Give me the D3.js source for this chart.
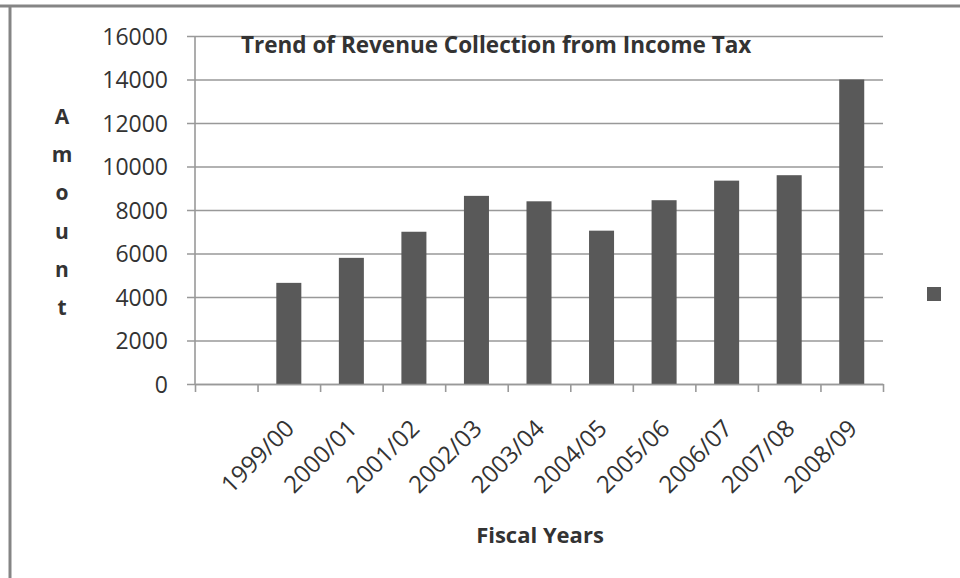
<!DOCTYPE html>
<html>
<head>
<meta charset="utf-8">
<script src="https://cdn.jsdelivr.net/npm/d3@7"></script>
<style>
  html, body { margin: 0; padding: 0; background: #fff; }
  svg { display: block; }
  text { font-family: "Open Sans", "Liberation Sans", sans-serif; fill: #333; }
</style>
</head>
<body>
<svg id="chart" width="960" height="578"></svg>
<script>
// Fiscal years (the first slot is left blank on the category axis)
const fiscalYears = ["", "1999/00", "2000/01", "2001/02", "2002/03", "2003/04",
                     "2004/05", "2005/06", "2006/07", "2007/08", "2008/09"];
// Revenue collected from income tax per fiscal year
const revenue = [null, 4650, 5800, 7000, 8650, 8400, 7050, 8450, 9350, 9600, 14000];
// Value axis ticks
const amountTicks = [0, 2000, 4000, 6000, 8000, 10000, 12000, 14000, 16000];
const titleText = "Trend of Revenue Collection from Income Tax";
const xTitle = "Fiscal Years";
const yTitle = "Amount";

const svg = d3.select("#chart");
const W = 960, H = 578;
const plot = { left: 195, right: 883, top: 36, bottom: 384 };
const gridColor = "#999";
const barColor = "#595959";
const labelColor = "#2e2e2e";

// outer frame (top and left edges)
svg.append("line").attr("x1", 0).attr("x2", W).attr("y1", 6).attr("y2", 6)
  .attr("stroke", "#858585").attr("stroke-width", 3);
svg.append("line").attr("x1", 10).attr("x2", 10).attr("y1", 6).attr("y2", H)
  .attr("stroke", "#858585").attr("stroke-width", 3);

const x = d3.scaleBand().domain(fiscalYears)
  .range([plot.left, plot.right]).paddingInner(0.6).paddingOuter(0.3);
const y = d3.scaleLinear().domain([0, 16000]).range([plot.bottom, plot.top]);
const slots = d3.scaleLinear().domain([0, fiscalYears.length]).range([plot.left, plot.right]);

// horizontal gridlines with small ticks extending left of the axis
const yAxis = d3.axisLeft(y).tickValues(amountTicks)
  .tickSize(-(plot.right - plot.left)).tickSizeOuter(0).tickPadding(27).tickFormat(d3.format("d"));
const gy = svg.append("g").attr("transform", `translate(${plot.left},0)`).call(yAxis);
gy.select(".domain").remove();
gy.selectAll(".tick line").attr("x1", -8).attr("stroke", gridColor).attr("stroke-width", 1.6);
gy.selectAll(".tick text").attr("font-size", 23).attr("fill", labelColor)
  .attr("font-family", "Open Sans").attr("dy", "0.36em");

// vertical value axis line
svg.append("line").attr("x1", plot.left).attr("x2", plot.left)
  .attr("y1", plot.top).attr("y2", plot.bottom)
  .attr("stroke", gridColor).attr("stroke-width", 1.6);

// bars
svg.append("g").selectAll("rect")
  .data(fiscalYears.map((c, i) => ({ c, v: revenue[i] })).filter(d => d.v != null))
  .join("rect")
  .attr("x", d => x(d.c))
  .attr("width", x.bandwidth())
  .attr("y", d => y(d.v))
  .attr("height", d => y(0) - y(d.v))
  .attr("fill", barColor);

// category axis: boundary tick marks
const xAxis = d3.axisBottom(slots).tickValues(d3.range(fiscalYears.length + 1))
  .tickSize(8).tickSizeOuter(0).tickFormat("");
const gx = svg.append("g").attr("transform", `translate(0,${plot.bottom})`).call(xAxis);
gx.select(".domain").attr("stroke", gridColor).attr("stroke-width", 1.6);
gx.selectAll(".tick line").attr("stroke", gridColor).attr("stroke-width", 1.6);

// rotated category labels
svg.append("g").selectAll("text")
  .data(fiscalYears.filter(c => c !== ""))
  .join("text")
  .attr("transform", c => `translate(${x(c) + x.bandwidth() / 2 + 7},430) rotate(-45)`)
  .attr("text-anchor", "end")
  .attr("font-size", 24)
  .attr("fill", labelColor)
  .text(c => c);

// chart title
svg.append("text").attr("x", 241).attr("y", 53)
  .attr("font-size", 22.5).attr("font-weight", "bold").attr("fill", "#262626")
  .text(titleText);

// axis titles
svg.append("text").attr("x", 540).attr("y", 543).attr("text-anchor", "middle")
  .attr("font-size", 22).attr("font-weight", "bold").attr("fill", "#262626")
  .text(xTitle);

svg.append("g").selectAll("text")
  .data(yTitle.split(""))
  .join("text")
  .attr("x", 62)
  .attr("y", (d, i) => 124 + i * 38.2)
  .attr("text-anchor", "middle")
  .attr("font-size", 21).attr("font-weight", "bold").attr("fill", "#262626")
  .text(d => d);

// legend marker (series has no name)
svg.append("rect").attr("x", 927).attr("y", 287).attr("width", 14).attr("height", 14)
  .attr("fill", barColor);
</script>
</body>
</html>
